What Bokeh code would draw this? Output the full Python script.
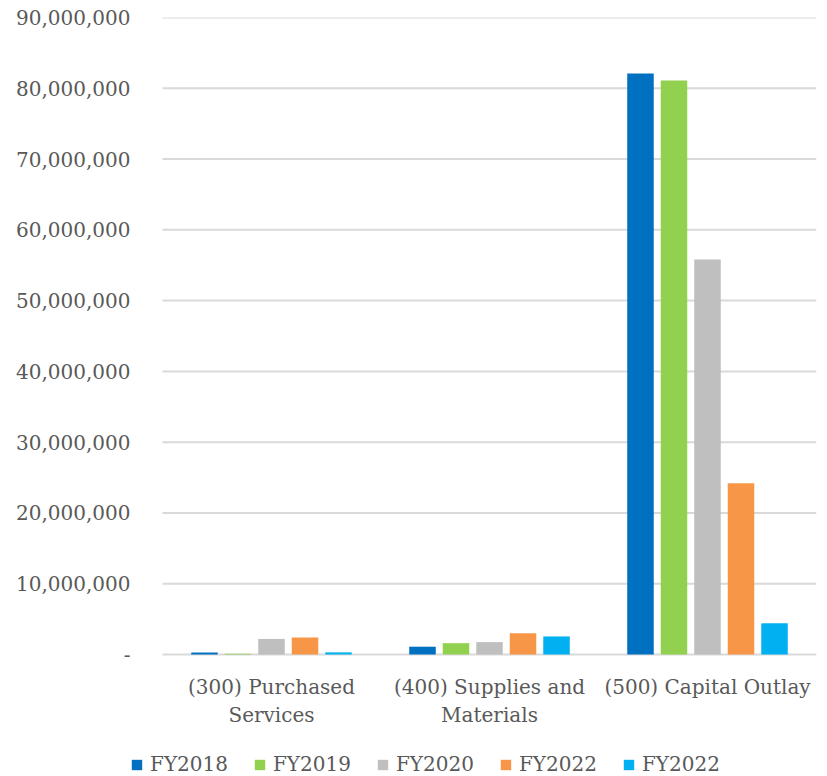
import numpy as np
from bokeh.plotting import figure
from bokeh.models import (ColumnDataSource, FixedTicker, CustomJSTickFormatter, Legend,
                          LegendItem, Range1d, Label)
from bokeh.embed import file_html
from bokeh.resources import INLINE

categories = ["(300) Purchased\nServices", "(400) Supplies and\nMaterials", "(500) Capital Outlay"]
series_names = ["FY2018", "FY2019", "FY2020", "FY2022", "FY2022"]
fy2018 = [300000, 1100000, 82100000]
fy2019 = [100000, 1600000, 81100000]
fy2020 = [2200000, 1750000, 55800000]
fy2022a = [2400000, 3000000, 24200000]
fy2022b = [300000, 2550000, 4400000]
colors = ["#0070C0", "#92D050", "#BFBFBF", "#F79646", "#00B0F0"]
y_ticks = [0, 10000000, 20000000, 30000000, 40000000, 50000000, 60000000, 70000000, 80000000, 90000000]

FONT = "DejaVu Serif"
TXT = "#595959"
GRID = "#D9D9D9"

# layout (pixels)
LEFT, TOP, RIGHT = 130, 17, 11
PLOT_LEFT_PAD = 32          # gap between frame edge and first category
CAT_PX = 218                # width of one category
AXIS_PX = 637               # 0 .. 90M height
BELOW_PX = 122              # space below zero line (labels + legend)

ymax = y_ticks[-1]
n = len(categories)
x_start = -PLOT_LEFT_PAD / CAT_PX
y_start = -BELOW_PX / AXIS_PX * ymax

p = figure(x_range=Range1d(x_start, n), y_range=Range1d(y_start, ymax),
           frame_width=PLOT_LEFT_PAD + CAT_PX * n, frame_height=AXIS_PX + BELOW_PX,
           output_backend="svg", toolbar_location=None, x_axis_location=None,
           min_border_left=LEFT, min_border_right=RIGHT, min_border_top=TOP, min_border_bottom=0)
p.outline_line_color = None
p.background_fill_color = "white"
p.border_fill_color = "white"
p.xgrid.grid_line_color = None
p.ygrid.grid_line_color = None

# horizontal gridlines (and zero/category axis line) across the category area
p.segment(x0=[0] * len(y_ticks), x1=[n] * len(y_ticks), y0=y_ticks, y1=y_ticks,
          line_color=GRID, line_width=2)

pitch = 0.1537
w = 0.1216
idx = np.arange(n) + 0.5
series = [fy2018, fy2019, fy2020, fy2022a, fy2022b]
renderers = []
for k, vals in enumerate(series):
    src = ColumnDataSource(dict(x=idx + (k - 2) * pitch, top=vals))
    r = p.vbar(x="x", top="top", width=w, source=src, fill_color=colors[k], line_color=None)
    renderers.append(r)

p.yaxis.ticker = FixedTicker(ticks=y_ticks)
p.yaxis.formatter = CustomJSTickFormatter(code="return tick == 0 ? '-' : tick.toLocaleString('en-US');")
p.yaxis.axis_line_color = None
p.yaxis.major_tick_line_color = None
p.yaxis.minor_tick_line_color = None
p.yaxis.major_tick_out = 0
p.yaxis.major_tick_in = 0
p.yaxis.minor_tick_out = 0
p.yaxis.major_label_text_font = FONT
p.yaxis.major_label_text_font_size = "20px"
p.yaxis.major_label_text_color = TXT
p.yaxis.major_label_standoff = 0

# category labels under each group
for i, cat in enumerate(categories):
    for j, line in enumerate(cat.split("\n")):
        p.add_layout(Label(x=i + 0.5, y=90 - 28 * j, x_units="data", y_units="screen",
                           text=line, text_align="center", text_baseline="middle",
                           text_font=FONT, text_font_size="20px", text_color=TXT))

items = [LegendItem(label=series_names[k], renderers=[renderers[k]]) for k in range(5)]
legend = Legend(items=items, orientation="horizontal", location=(0, 0),
                label_text_font=FONT, label_text_font_size="20px", label_text_color=TXT,
                glyph_width=13, glyph_height=13, spacing=25, label_standoff=7,
                border_line_color=None, background_fill_alpha=0, padding=0, margin=0)
p.add_layout(legend, "center")

open("out.html", "w").write(file_html(p, INLINE))
